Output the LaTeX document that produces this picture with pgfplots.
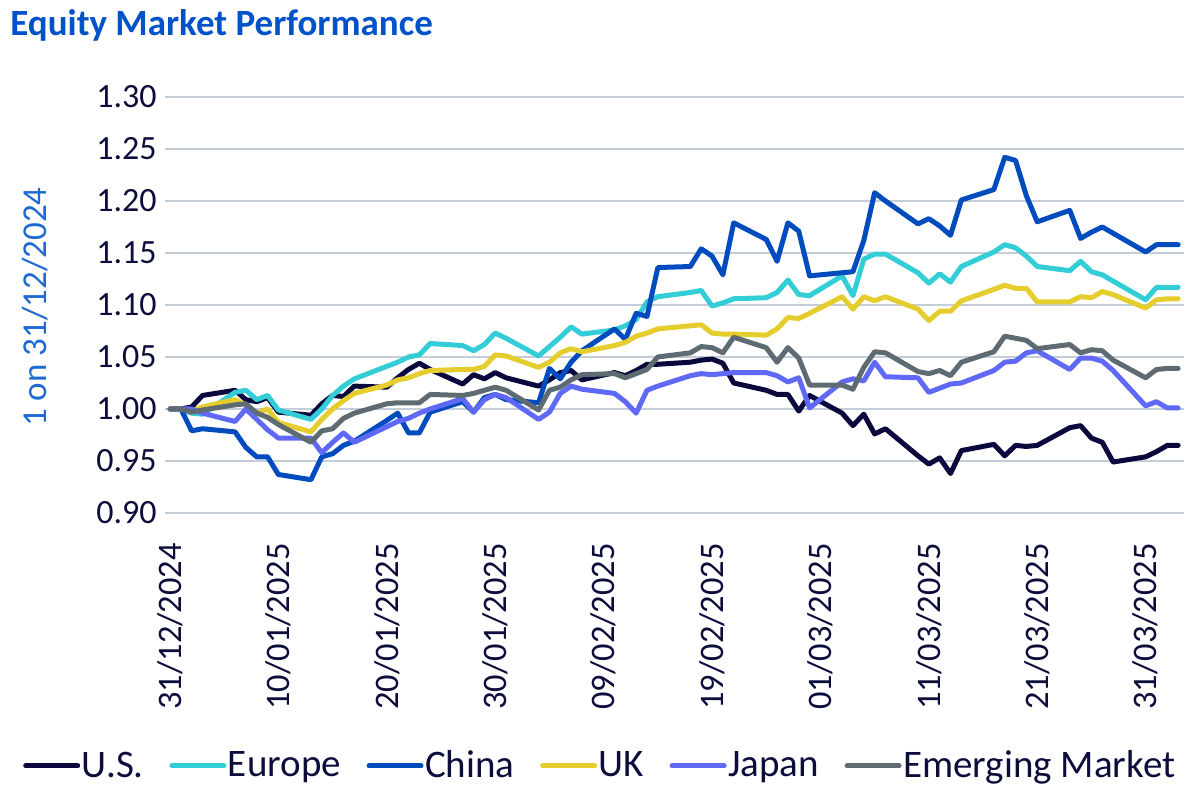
\documentclass[border=0pt]{standalone}
\usepackage{pgfplots}
\pgfplotsset{compat=1.18}
\usepackage{pgfplotstable}
\usepackage{fontspec}
\setmainfont{Carlito}

\definecolor{cUS}{RGB}{10,8,60}
\definecolor{cEU}{RGB}{50,205,215}
\definecolor{cCN}{RGB}{0,76,190}
\definecolor{cUK}{RGB}{228,205,45}
\definecolor{cJP}{RGB}{95,105,245}
\definecolor{cEM}{RGB}{95,107,115}
\definecolor{gridc}{RGB}{197,206,216}
\definecolor{txt}{RGB}{13,13,60}
\definecolor{ttl}{RGB}{0,82,200}
\definecolor{ylab}{RGB}{30,105,210}

% Index level (1 = 31/12/2024); day = days since 31/12/2024
\pgfplotstableread{
day US    EU    CN    UK    JP    EM
0   1.000 1.000 1.000 1.000 1.000 1.000
1   1.000 1.000 1.000 1.000 1.000 1.000
2   1.002 0.996 0.979 0.998 1.000 0.997
3   1.013 0.995 0.981 1.002 0.996 0.999
6   1.018 1.016 0.978 1.009 0.988 1.004
7   1.009 1.018 0.963 1.004 1.000 1.005
8   1.007 1.009 0.954 0.996 0.990 0.996
9   1.011 1.013 0.954 1.000 0.980 0.992
10  0.997 0.999 0.937 0.987 0.972 0.985
13  0.994 0.990 0.932 0.978 0.972 0.968
14  1.005 1.000 0.954 0.990 0.958 0.979
15  1.013 1.013 0.957 1.000 0.968 0.981
16  1.012 1.022 0.965 1.008 0.977 0.991
17  1.022 1.029 0.969 1.015 0.968 0.996
20  1.021 1.041 0.989 1.023 0.983 1.005
21  1.030 1.045 0.996 1.028 0.988 1.006
22  1.038 1.050 0.977 1.030 0.991 1.006
23  1.044 1.052 0.977 1.034 0.996 1.006
24  1.038 1.063 0.997 1.037 1.000 1.014
27  1.024 1.061 1.007 1.038 1.010 1.013
28  1.033 1.056 0.997 1.038 0.997 1.015
29  1.029 1.062 1.011 1.041 1.009 1.018
30  1.035 1.073 1.014 1.052 1.014 1.021
31  1.030 1.068 1.009 1.051 1.011 1.018
34  1.022 1.051 1.006 1.040 0.990 0.999
35  1.028 1.060 1.039 1.045 0.997 1.018
36  1.035 1.069 1.029 1.054 1.015 1.021
37  1.037 1.079 1.045 1.058 1.022 1.028
38  1.028 1.072 1.056 1.055 1.019 1.033
41  1.035 1.076 1.077 1.061 1.015 1.034
42  1.032 1.080 1.067 1.064 1.007 1.030
43  1.037 1.086 1.092 1.070 0.996 1.034
44  1.043 1.103 1.089 1.073 1.018 1.038
45  1.043 1.108 1.136 1.077 1.022 1.050
48  1.045 1.112 1.137 1.080 1.032 1.054
49  1.047 1.114 1.154 1.081 1.034 1.060
50  1.048 1.099 1.147 1.073 1.033 1.059
51  1.044 1.102 1.129 1.072 1.034 1.054
52  1.025 1.106 1.179 1.072 1.035 1.069
55  1.018 1.107 1.163 1.071 1.035 1.059
56  1.014 1.112 1.142 1.077 1.032 1.045
57  1.014 1.124 1.179 1.088 1.026 1.059
58  0.998 1.110 1.171 1.087 1.030 1.049
59  1.013 1.109 1.128 1.092 1.001 1.023
62  0.996 1.128 1.131 1.108 1.026 1.023
63  0.984 1.109 1.132 1.096 1.029 1.019
64  0.995 1.144 1.162 1.108 1.027 1.040
65  0.976 1.149 1.208 1.104 1.045 1.055
66  0.981 1.149 1.200 1.108 1.031 1.054
69  0.955 1.131 1.178 1.096 1.030 1.036
70  0.947 1.121 1.183 1.085 1.016 1.034
71  0.953 1.130 1.176 1.094 1.020 1.037
72  0.938 1.122 1.167 1.094 1.024 1.032
73  0.960 1.137 1.201 1.104 1.025 1.045
76  0.966 1.151 1.211 1.115 1.037 1.055
77  0.955 1.158 1.242 1.119 1.045 1.070
78  0.965 1.155 1.239 1.116 1.046 1.068
79  0.964 1.147 1.205 1.116 1.054 1.066
80  0.965 1.137 1.180 1.103 1.056 1.058
83  0.982 1.133 1.191 1.103 1.038 1.062
84  0.984 1.142 1.164 1.108 1.049 1.054
85  0.972 1.132 1.170 1.107 1.049 1.057
86  0.968 1.129 1.175 1.113 1.046 1.056
87  0.949 1.123 1.169 1.110 1.037 1.047
90  0.954 1.105 1.151 1.097 1.003 1.030
91  0.959 1.117 1.158 1.105 1.007 1.038
92  0.965 1.117 1.158 1.106 1.001 1.039
93  0.965 1.117 1.158 1.106 1.001 1.039
}\perf

\begin{document}
\begin{tikzpicture}
\useasboundingbox (-82.3pt,-144pt) rectangle (517.7pt,256.5pt);
\begin{axis}[
  at={(0pt,0pt)}, anchor=south west,
  scale only axis, width=509.5pt, height=208pt,
  xmin=-0.5, xmax=93.5, ymin=0.9, ymax=1.3,
  xtick={0,10,...,90},
  xticklabels={31/12/2024,10/01/2025,20/01/2025,30/01/2025,09/02/2025,19/02/2025,01/03/2025,11/03/2025,21/03/2025,31/03/2025},
  ytick={0.90,0.95,...,1.31},
  yticklabel style={/pgf/number format/fixed, /pgf/number format/fixed zerofill,
    /pgf/number format/precision=2, /pgf/number format/assume math mode=true,
    inner sep=0pt, font=\fontsize{17}{20}\selectfont, text=txt},
  yticklabel shift=3.8pt,
  xticklabel style={rotate=90, anchor=east, inner sep=0pt, font=\fontsize{17.2}{20}\selectfont, text=txt},
  xticklabel shift=15pt,
  ymajorgrids, major grid style={gridc, line width=1pt},
  axis line style={draw=none}, major tick length=0pt,
  ylabel={1 on 31/12/2024},
  ylabel style={at={(axis description cs:-0.116,0.495)}, anchor=base, font=\fontsize{17.5}{20}\selectfont, text=ylab},
  legend columns=6,
  legend style={draw=none, fill=none, at={(axis description cs:0.4273,-0.608)}, anchor=center,
    font=\fontsize{19.5}{22}\selectfont, text=txt,
    /tikz/every even column/.append style={column sep=12pt},
    /tikz/every odd column/.append style={column sep=0pt},
    nodes={inner sep=0.8pt}},
  legend image code/.code={\draw[#1, line width=2.5pt, line cap=round] (0pt,0pt) -- (26pt,0pt);},
  every axis plot/.append style={line width=2.5pt, line join=round, line cap=round, mark=none},
  clip=false,
]
\addplot[cUS] table[x=day, y=US] {\perf};
\addlegendentry{U.S.}
\addplot[cEU] table[x=day, y=EU] {\perf};
\addlegendentry{Europe}
\addplot[cCN] table[x=day, y=CN] {\perf};
\addlegendentry{China}
\addplot[cUK] table[x=day, y=UK] {\perf};
\addlegendentry{UK}
\addplot[cJP] table[x=day, y=JP] {\perf};
\addlegendentry{Japan}
\addplot[cEM] table[x=day, y=EM] {\perf};
\addlegendentry{Emerging Market}
\node[anchor=base west, font=\bfseries\fontsize{18.5}{21}\selectfont, text=ttl, inner sep=0pt]
  at (axis description cs:-0.1517,1.149) {Equity Market Performance};
\end{axis}
\end{tikzpicture}
\end{document}
